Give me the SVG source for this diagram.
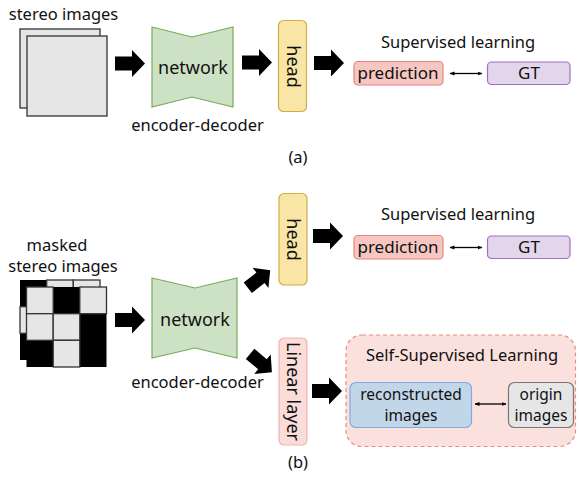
<svg xmlns="http://www.w3.org/2000/svg" width="577" height="485" viewBox="0 0 577 485">
  <style>
    text { font-family: "Noto Sans", "Open Sans", "DejaVu Sans", sans-serif; fill: #111; }
    .lbl { font-size: 16.5px; }
    .two { font-size: 15.5px; }
    .box { font-size: 17px; }
    .big { font-size: 18px; }
    .img { fill: #e6e6e6; stroke: #333; stroke-width: 1.3; }
    .net { fill: #cde2c4; stroke: #7aab5c; stroke-width: 1.2; }
    .head { fill: #f9e5a6; stroke: #d2ad4a; stroke-width: 1.2; }
    .lin { fill: #fadcd8; stroke: #f0b3ad; stroke-width: 1.2; }
    .pred { fill: #f6c7c2; stroke: #e3857c; stroke-width: 1.2; }
    .gt { fill: #e3d6ea; stroke: #a36ccb; stroke-width: 1.2; }
    .ssl { fill: #fbe1de; stroke: #ea8a84; stroke-width: 1.2; stroke-dasharray: 4 3; }
    .rec { fill: #c2d6e9; stroke: #86a9dc; stroke-width: 1.2; }
    .orig { fill: #e6e6e6; stroke: #777; stroke-width: 1.2; }
    .dbl { stroke: #000; stroke-width: 1.3; fill: none; marker-start: url(#ah); marker-end: url(#ah); }
  </style>
  <defs>
    <!-- block arrow centered at the origin, pointing right -->
    <path id="barrow" d="M-15,-7 H2 V-13.5 L15,0 L2,13.5 V7 H-15 Z" fill="#000"/>
    <marker id="ah" viewBox="0 0 10 10" refX="9" refY="5" markerWidth="5" markerHeight="5" orient="auto-start-reverse" markerUnits="userSpaceOnUse">
      <path d="M0,1 L10,5 L0,9 Z" fill="#000"/>
    </marker>
  </defs>

  <!-- ===== (a) ===== -->
  <g id="stereo-a">
    <text class="lbl" x="63.5" y="20" text-anchor="middle">stereo images</text>
    <rect class="img" x="20" y="29" width="80" height="79"/>
    <rect class="img" x="27" y="36" width="80" height="80"/>
  </g>
  <g id="network-a">
    <polygon class="net" points="152,27 192,37 233,27 233,107 192,97 152,107"/>
    <text class="big" x="193" y="74" text-anchor="middle">network</text>
    <text class="lbl" x="197.5" y="131" text-anchor="middle">encoder-decoder</text>
  </g>
  <g id="head-a">
    <rect class="head" x="278.5" y="20.5" width="28" height="91" rx="5"/>
    <text class="big" transform="translate(292.5,66.5) rotate(90)" x="0" y="6" text-anchor="middle">head</text>
  </g>
  <g id="sup-a">
    <text class="lbl" x="458" y="48" text-anchor="middle">Supervised learning</text>
    <g id="pred-a">
      <rect class="pred" x="354" y="61.5" width="89" height="23.5" rx="4"/>
      <text class="box" x="398" y="79" text-anchor="middle">prediction</text>
    </g>
    <g id="gt-a">
      <rect class="gt" x="487.5" y="62" width="82.5" height="22.5" rx="4"/>
      <text class="box" x="529" y="79" text-anchor="middle">GT</text>
    </g>
  </g>
  <text class="lbl" x="298" y="163" text-anchor="middle">(a)</text>

  <!-- ===== (b) ===== -->
  <g id="stereo-b">
    <text class="lbl" x="57" y="251" text-anchor="middle">masked</text>
    <text class="lbl" x="63" y="272" text-anchor="middle">stereo images</text>
    <!-- back image -->
    <rect x="20" y="280" width="80" height="80" fill="#000"/>
    <rect class="img" x="46.7" y="280" width="26.6" height="26.7"/>
    <rect class="img" x="73.3" y="280" width="26.7" height="26.7"/>
    <rect class="img" x="20" y="306.7" width="26.7" height="26.6"/>
    <!-- front image -->
    <rect x="26.5" y="287" width="80" height="80" fill="#000"/>
    <rect class="img" x="26.5" y="287" width="26.7" height="26.7"/>
    <rect class="img" x="79.8" y="287" width="26.7" height="26.7"/>
    <rect class="img" x="26.5" y="313.7" width="26.7" height="26.6"/>
    <rect class="img" x="53.2" y="313.7" width="26.6" height="26.6"/>
    <rect class="img" x="53.2" y="340.3" width="26.6" height="26.7"/>
  </g>
  <g id="network-b">
    <polygon class="net" points="152,278 195,288 237,278 237,358 195,348 152,358"/>
    <text class="big" x="195" y="326" text-anchor="middle">network</text>
    <text class="lbl" x="197.5" y="388" text-anchor="middle">encoder-decoder</text>
  </g>
  <g id="head-b">
    <rect class="head" x="279" y="193.5" width="28" height="91.5" rx="5"/>
    <text class="big" transform="translate(293,239.5) rotate(90)" x="0" y="6" text-anchor="middle">head</text>
  </g>
  <g id="linear-b">
    <rect class="lin" x="279" y="338" width="28" height="107" rx="5"/>
    <text class="big" transform="translate(293,391.5) rotate(90)" x="0" y="6" text-anchor="middle">Linear layer</text>
  </g>
  <g id="sup-b">
    <text class="lbl" x="458" y="220" text-anchor="middle">Supervised learning</text>
    <g id="pred-b">
      <rect class="pred" x="354" y="235.5" width="89" height="23.5" rx="4"/>
      <text class="box" x="398" y="253" text-anchor="middle">prediction</text>
    </g>
    <g id="gt-b">
      <rect class="gt" x="487.5" y="236" width="82.5" height="22.5" rx="4"/>
      <text class="box" x="529" y="253" text-anchor="middle">GT</text>
    </g>
  </g>
  <g id="ssl-b">
    <rect class="ssl" x="346" y="335" width="229.5" height="111.5" rx="16"/>
    <text class="lbl" x="462" y="361" text-anchor="middle">Self-Supervised Learning</text>
    <g id="recon-b">
      <rect class="rec" x="350" y="382.5" width="121.5" height="45" rx="6"/>
      <text class="two" x="411" y="399.5" text-anchor="middle">reconstructed</text>
      <text class="two" x="411" y="421" text-anchor="middle">images</text>
    </g>
    <g id="origin-b">
      <rect class="orig" x="508.5" y="382.5" width="65" height="45" rx="6"/>
      <text class="two" x="541" y="399.5" text-anchor="middle">origin</text>
      <text class="two" x="541" y="421" text-anchor="middle">images</text>
    </g>
  </g>
  <text class="lbl" x="298" y="468" text-anchor="middle">(b)</text>

  <!-- ===== connectors ===== -->
  <g id="connectors">
    <use href="#barrow" transform="translate(130,63.5)"/>
    <use href="#barrow" transform="translate(257,62.5)"/>
    <use href="#barrow" transform="translate(329,63)"/>
    <line class="dbl" x1="450" y1="73.5" x2="482" y2="73.5"/>

    <use href="#barrow" transform="translate(130,320)"/>
    <use href="#barrow" transform="translate(259,279) rotate(-38) scale(0.95)"/>
    <use href="#barrow" transform="translate(261,363) rotate(40) scale(0.95)"/>
    <use href="#barrow" transform="translate(328,236)"/>
    <line class="dbl" x1="450" y1="247.5" x2="482" y2="247.5"/>
    <use href="#barrow" transform="translate(327,391)"/>
    <line class="dbl" x1="475" y1="404" x2="506" y2="404"/>
  </g>
</svg>
